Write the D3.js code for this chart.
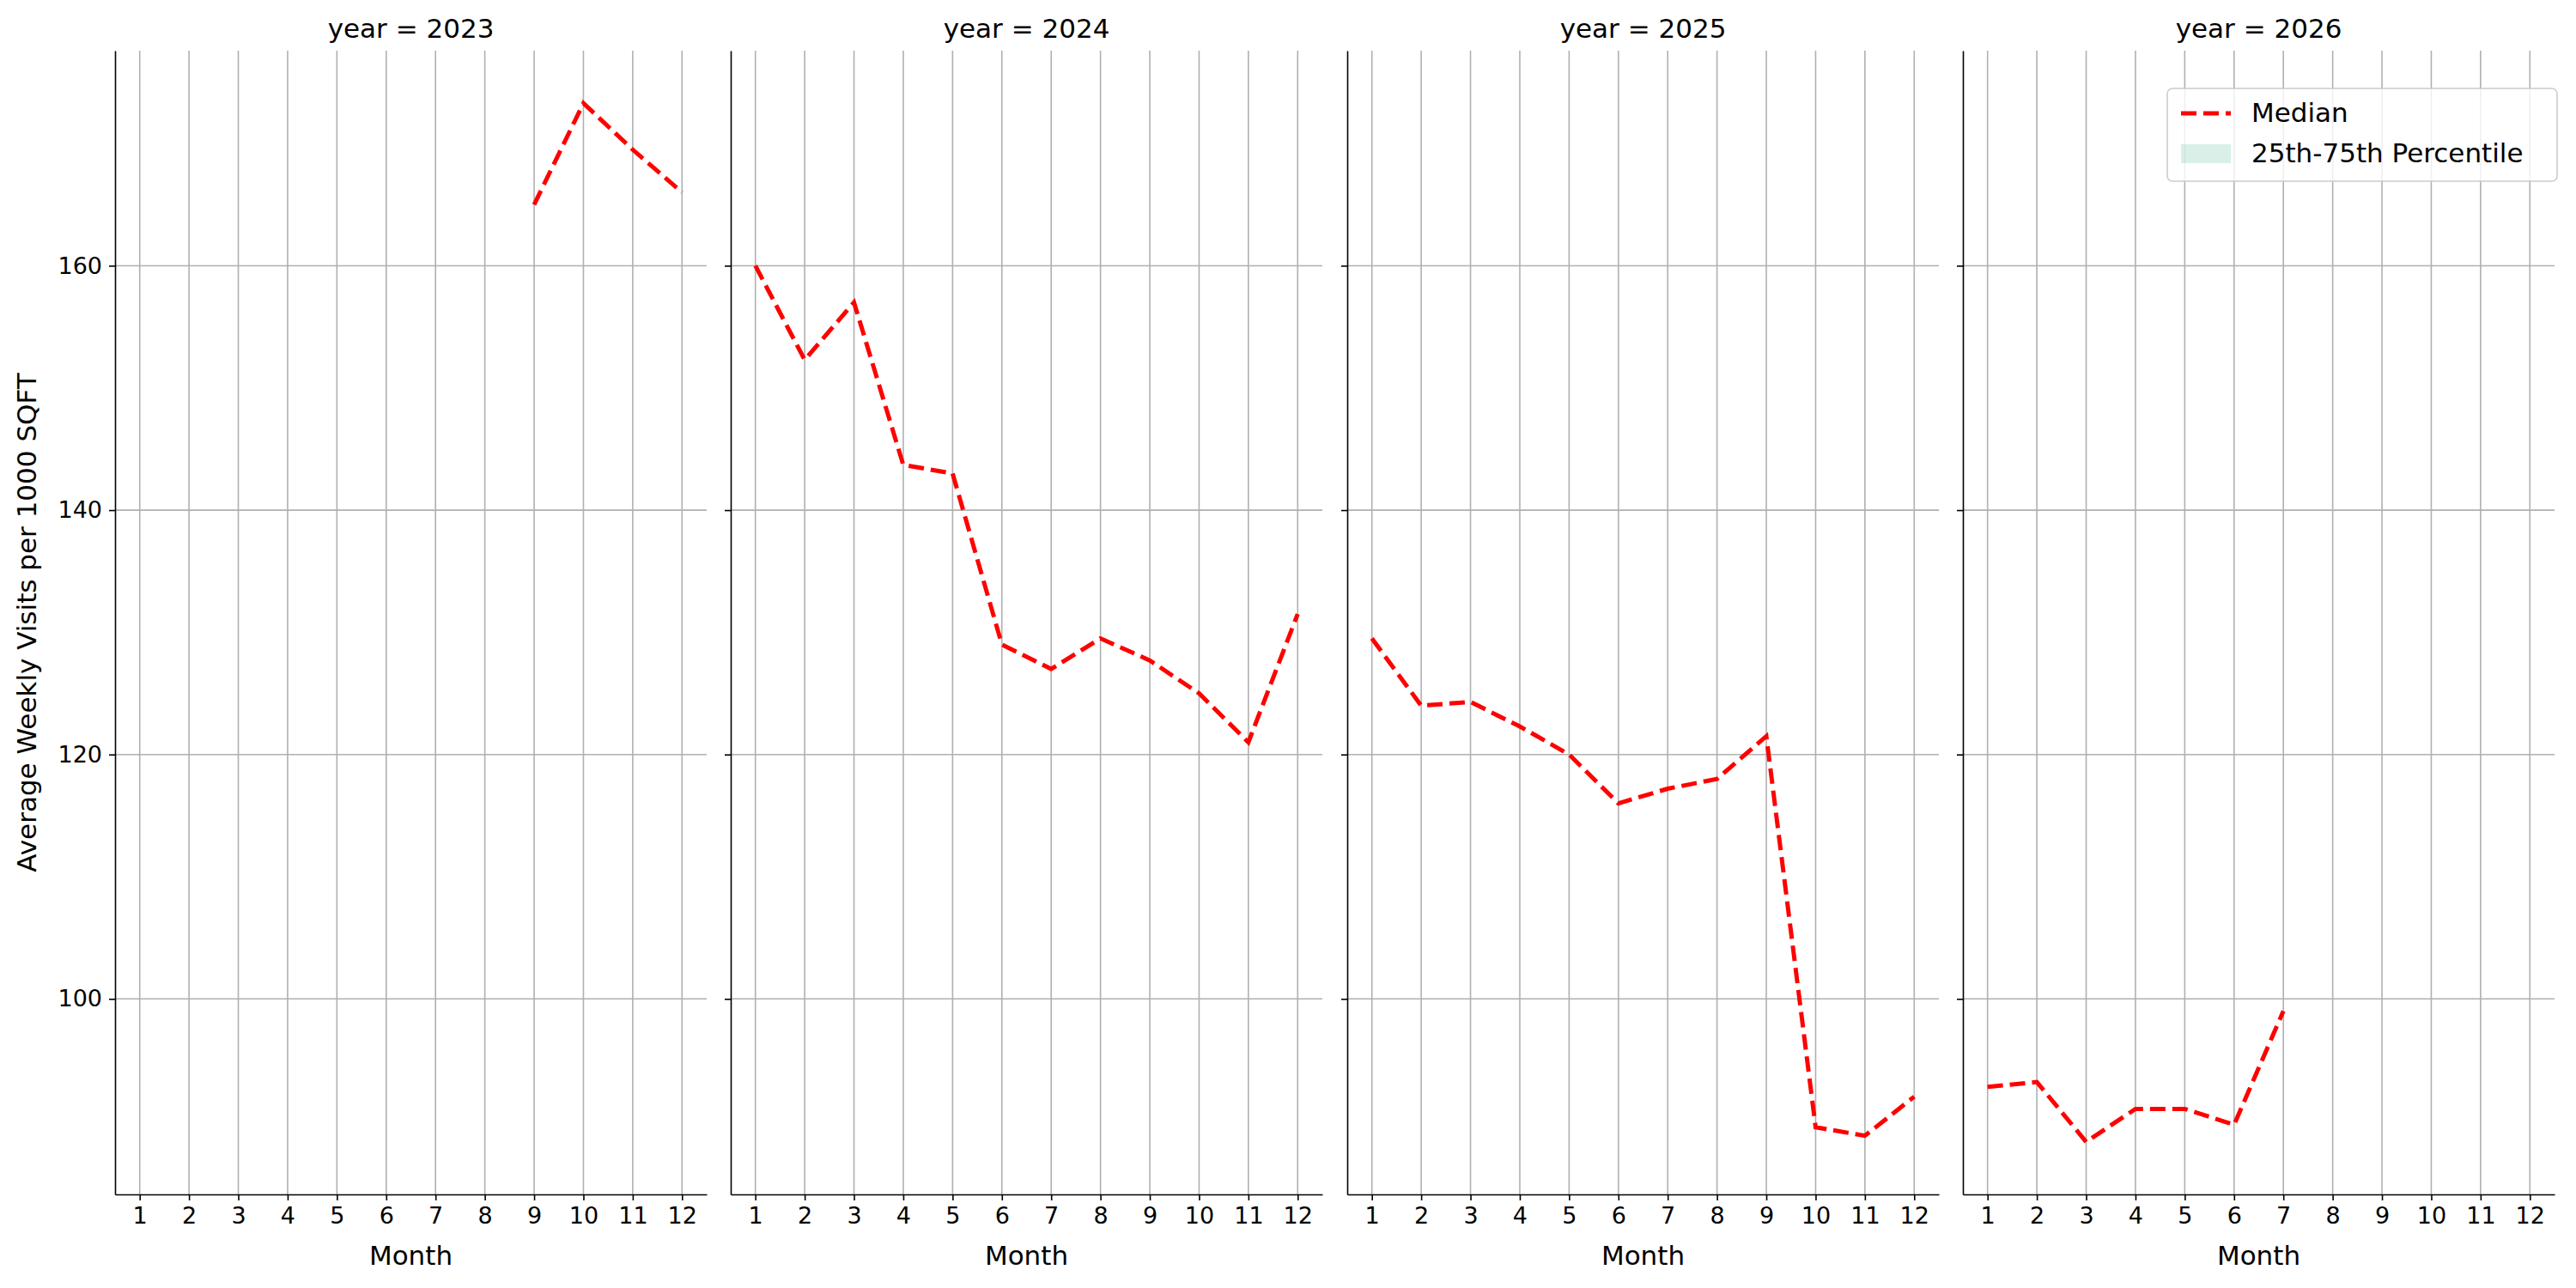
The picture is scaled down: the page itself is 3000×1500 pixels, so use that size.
<!DOCTYPE html>
<html>
<head>
<meta charset="utf-8">
<script src="https://cdn.jsdelivr.net/npm/d3@7"></script>
<style>
  body { margin: 0; background: #fff; }
  text { font-family: "DejaVu Sans", sans-serif; }
</style>
</head>
<body>
<script>
const years = [2023, 2024, 2025, 2026];
const months = [1, 2, 3, 4, 5, 6, 7, 8, 9, 10, 11, 12];
const yTicks = [100, 120, 140, 160];

// median series per year: [month, value]
const median2023 = [[9, 165], [10, 173.3], [11, 169.5], [12, 166]];
const median2024 = [[1, 160], [2, 152.3], [3, 157], [4, 143.7], [5, 143], [6, 129],
  [7, 127], [8, 129.5], [9, 127.7], [10, 125], [11, 121], [12, 131.5]];
const median2025 = [[1, 129.5], [2, 124], [3, 124.3], [4, 122.3], [5, 120], [6, 116],
  [7, 117.2], [8, 118], [9, 121.5], [10, 89.5], [11, 88.8], [12, 92]];
const median2026 = [[1, 92.8], [2, 93.2], [3, 88.3], [4, 91], [5, 91], [6, 89.7], [7, 99]];
const medians = [median2023, median2024, median2025, median2026];

const W = 3000, H = 1500;
const panelLefts = [134, 851, 1569, 2286];
const panelW = 689, plotTop = 59, plotBottom = 1391;

const svg = d3.select("body").append("svg")
  .attr("width", W).attr("height", H);

const y = d3.scaleLinear().domain([84, 177.6]).range([plotBottom, plotTop]);

years.forEach((yr, i) => {
  const x0 = panelLefts[i];
  const x = d3.scaleLinear().domain([0.5, 12.5]).range([x0, x0 + panelW]);
  const g = svg.append("g");

  // grid
  g.selectAll(".vg").data(months).join("line")
    .attr("x1", d => x(d)).attr("x2", d => x(d))
    .attr("y1", plotTop).attr("y2", plotBottom)
    .attr("stroke", "#b0b0b0").attr("stroke-width", 1.6);
  g.selectAll(".hg").data(yTicks).join("line")
    .attr("x1", x0).attr("x2", x0 + panelW)
    .attr("y1", d => y(d)).attr("y2", d => y(d))
    .attr("stroke", "#b0b0b0").attr("stroke-width", 1.6);

  // axes
  const xAxis = g.append("g")
    .attr("transform", `translate(0,${plotBottom})`)
    .call(d3.axisBottom(x).tickValues(months).tickSize(7).tickPadding(8).tickSizeOuter(0));
  xAxis.select(".domain").attr("stroke-width", 1.6);
  xAxis.selectAll(".tick line").attr("stroke-width", 1.6);
  xAxis.selectAll("text").attr("font-size", 27).attr("fill", "#000");

  const yAxis = g.append("g")
    .attr("transform", `translate(${x0},0)`)
    .call(d3.axisLeft(y).tickValues(yTicks).tickSize(7).tickPadding(8).tickSizeOuter(0)
      .tickFormat(i === 0 ? d3.format("d") : () => ""));
  yAxis.select(".domain").attr("stroke-width", 1.6);
  yAxis.selectAll(".tick line").attr("stroke-width", 1.6);
  yAxis.selectAll("text").attr("font-size", 27).attr("fill", "#000");

  g.append("text")
    .attr("x", x0 + panelW / 2).attr("y", plotBottom + 82)
    .attr("text-anchor", "middle").attr("font-size", 31)
    .text("Month");

  g.append("text")
    .attr("x", x0 + panelW / 2).attr("y", plotTop - 15)
    .attr("text-anchor", "middle").attr("font-size", 31)
    .text(`year = ${yr}`);

  g.append("path")
    .datum(medians[i])
    .attr("fill", "none").attr("stroke", "#ff0000")
    .attr("stroke-width", 5).attr("stroke-dasharray", "18,8")
    .attr("d", d3.line().x(d => x(d[0])).y(d => y(d[1])));
});

svg.append("text")
  .attr("transform", `translate(42,${(plotTop + plotBottom) / 2}) rotate(-90)`)
  .attr("text-anchor", "middle").attr("font-size", 31)
  .text("Average Weekly Visits per 1000 SQFT");

// legend
const lg = svg.append("g").attr("transform", "translate(2524,103)");
lg.append("rect").attr("width", 454).attr("height", 108).attr("rx", 6)
  .attr("fill", "#fff").attr("fill-opacity", 0.8).attr("stroke", "#ccc").attr("stroke-width", 1.6);
lg.append("line").attr("x1", 16).attr("x2", 74).attr("y1", 29).attr("y2", 29)
  .attr("stroke", "#ff0000").attr("stroke-width", 5).attr("stroke-dasharray", "18,8");
lg.append("text").attr("x", 98).attr("y", 39).attr("font-size", 31).text("Median");
lg.append("rect").attr("x", 16).attr("y", 65).attr("width", 58).attr("height", 22)
  .attr("fill", "#66c2a5").attr("fill-opacity", 0.25);
lg.append("text").attr("x", 98).attr("y", 86).attr("font-size", 31).text("25th-75th Percentile");
</script>
</body>
</html>
